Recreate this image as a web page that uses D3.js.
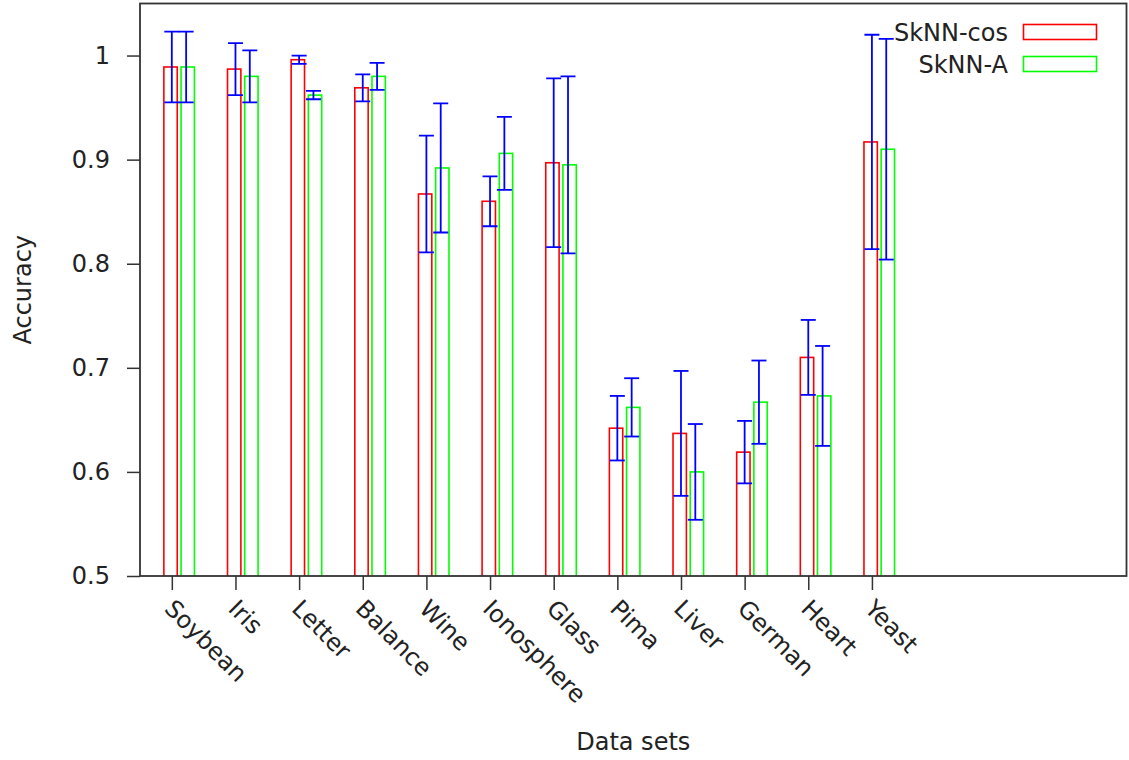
<!DOCTYPE html>
<html>
<head>
<meta charset="utf-8">
<script src="https://cdn.jsdelivr.net/npm/d3@7"></script>
<style>
  body { margin: 0; background: #fff; }
  svg text { font-family: "DejaVu Sans", sans-serif; fill: #222; }
</style>
</head>
<body>
<svg id="chart" width="1129" height="760"></svg>
<script>
// data
var categories = ["Soybean", "Iris", "Letter", "Balance", "Wine", "Ionosphere",
                  "Glass", "Pima", "Liver", "German", "Heart", "Yeast"];
var cosMean = [0.989, 0.987, 0.996, 0.969, 0.867, 0.860, 0.897, 0.642, 0.637, 0.619, 0.710, 0.917];
var cosErr  = [0.034, 0.025, 0.004, 0.013, 0.056, 0.024, 0.081, 0.031, 0.060, 0.030, 0.036, 0.103];
var aMean   = [0.989, 0.980, 0.962, 0.980, 0.892, 0.906, 0.895, 0.662, 0.600, 0.667, 0.673, 0.910];
var aErr    = [0.034, 0.025, 0.004, 0.013, 0.062, 0.035, 0.085, 0.028, 0.046, 0.040, 0.048, 0.106];
var seriesNames = ["SkNN-cos", "SkNN-A"];
var yTicks = [0.5, 0.6, 0.7, 0.8, 0.9, 1];
var yTickLabels = ["0.5", "0.6", "0.7", "0.8", "0.9", "1"];

function draw() {
  "use strict";

  var pLeft = 140, pRight = 1126.5, pTop = 3.5, pBottom = 576;
  var svg = d3.select("#chart");

  var x = d3.scaleLinear().domain([-0.5, 15]).range([pLeft, pRight]);
  var y = d3.scaleLinear().domain([0.5, 1.05]).range([pBottom, pTop]);

  // series layout (offsets in x units from the tick)
  var series = [
    { mean: cosMean, err: cosErr, color: "#ff0000", barOff: -0.02, errOff: 0 },
    { mean: aMean, err: aErr, color: "#00ff00", barOff: 0.25, errOff: 0.225 }
  ];
  var barW = 0.21;
  var capHalf = 7.5;

  svg.append("clipPath").attr("id", "plotClip")
    .append("rect")
    .attr("x", pLeft).attr("y", pTop)
    .attr("width", pRight - pLeft).attr("height", pBottom - pTop);

  var plot = svg.append("g").attr("clip-path", "url(#plotClip)");

  series.forEach(function(s) {
    var g = plot.append("g");
    g.selectAll("rect")
      .data(s.mean)
      .enter()
      .append("rect")
      .attr("x", function(d, i) { return x(i + s.barOff - barW / 2); })
      .attr("width", x(barW) - x(0))
      .attr("y", function(d) { return y(d); })
      .attr("height", function(d) { return y(0.5) - y(d) + 2; })
      .attr("fill", "none")
      .attr("stroke", s.color)
      .attr("stroke-width", 1.6);

    var eb = g.selectAll("g.eb")
      .data(s.mean)
      .enter()
      .append("g")
      .attr("class", "eb")
      .attr("stroke", "#0000ff")
      .attr("stroke-width", 1.8);
    eb.append("line")
      .attr("x1", function(d, i) { return x(i + s.errOff); })
      .attr("x2", function(d, i) { return x(i + s.errOff); })
      .attr("y1", function(d, i) { return y(d + s.err[i]); })
      .attr("y2", function(d, i) { return y(d - s.err[i]); });
    eb.append("line")
      .attr("x1", function(d, i) { return x(i + s.errOff) - capHalf; })
      .attr("x2", function(d, i) { return x(i + s.errOff) + capHalf; })
      .attr("y1", function(d, i) { return y(d + s.err[i]); })
      .attr("y2", function(d, i) { return y(d + s.err[i]); });
    eb.append("line")
      .attr("x1", function(d, i) { return x(i + s.errOff) - capHalf; })
      .attr("x2", function(d, i) { return x(i + s.errOff) + capHalf; })
      .attr("y1", function(d, i) { return y(d - s.err[i]); })
      .attr("y2", function(d, i) { return y(d - s.err[i]); });
  });

  // y axis
  var yAxis = svg.append("g")
    .attr("transform", "translate(" + pLeft + ",0)")
    .call(d3.axisLeft(y).tickValues(yTicks).tickSize(13).tickPadding(17)
      .tickFormat(function(d, i) { return yTickLabels[i]; }));
  yAxis.select(".domain").remove();
  yAxis.selectAll("line").attr("stroke", "#333").attr("stroke-width", 1.5);
  yAxis.selectAll("text").attr("font-size", 24).style("font-family", "DejaVu Sans").attr("fill", "#222");

  // x axis
  var xAxis = svg.append("g")
    .attr("transform", "translate(0," + pBottom + ")")
    .call(d3.axisBottom(x).tickValues(d3.range(categories.length)).tickSize(14)
      .tickFormat(function(d) { return categories[d]; }));
  xAxis.select(".domain").remove();
  xAxis.selectAll("line").attr("stroke", "#333").attr("stroke-width", 1.5);
  xAxis.selectAll("text")
    .attr("font-size", 24)
    .style("font-family", "DejaVu Sans")
    .attr("fill", "#222")
    .attr("text-anchor", "start")
    .attr("y", 0).attr("dy", 0)
    .attr("transform", "translate(-9,34) rotate(45)");

  // frame
  svg.append("rect")
    .attr("x", pLeft).attr("y", pTop)
    .attr("width", pRight - pLeft).attr("height", pBottom - pTop)
    .attr("fill", "none")
    .attr("stroke", "#333")
    .attr("stroke-width", 1.8);

  // axis titles
  svg.append("text")
    .attr("transform", "translate(31," + ((pTop + pBottom) / 2) + ") rotate(-90)")
    .attr("text-anchor", "middle")
    .attr("font-size", 24)
    .text("Accuracy");
  svg.append("text")
    .attr("x", (pLeft + pRight) / 2)
    .attr("y", 750)
    .attr("text-anchor", "middle")
    .attr("font-size", 24)
    .text("Data sets");

  // legend
  var legend = svg.append("g");
  series.forEach(function(s, i) {
    legend.append("text")
      .attr("x", 1008)
      .attr("y", 40.5 + i * 32)
      .attr("text-anchor", "end")
      .attr("font-size", 24)
      .text(seriesNames[i]);
    legend.append("rect")
      .attr("x", 1023.5).attr("y", 24.5 + i * 32)
      .attr("width", 73).attr("height", 15)
      .attr("fill", "none")
      .attr("stroke", s.color)
      .attr("stroke-width", 1.6);
  });
}

draw();
</script>
</body>
</html>
